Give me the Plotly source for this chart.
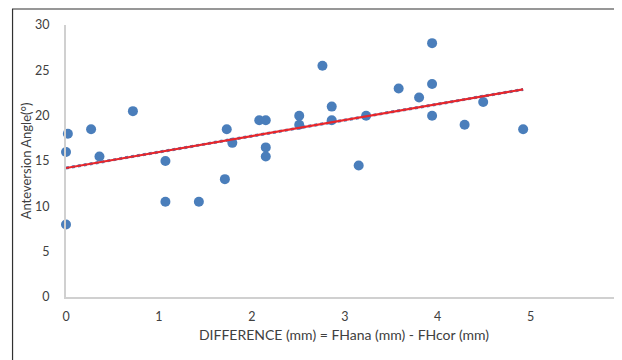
import numpy as np
import plotly.graph_objects as go

difference = [0, 0, 0.02, 0.27, 0.36, 0.72, 1.07, 1.07, 1.43, 1.71, 1.73, 1.79,
              2.08, 2.15, 2.15, 2.15, 2.51, 2.51, 2.76, 2.86, 2.86, 3.15, 3.23,
              3.58, 3.80, 3.94, 3.94, 3.94, 4.29, 4.49, 4.92]
anteversion = [8, 16, 18, 18.5, 15.5, 20.5, 15, 10.5, 10.5, 13, 18.5, 17,
               19.5, 19.5, 16.5, 15.5, 20, 19, 25.5, 21, 19.5, 14.5, 20,
               23, 22, 28, 23.5, 20, 19, 21.5, 18.5]
y_ticks = [0, 5, 10, 15, 20, 25, 30]
x_ticks = [0, 1, 2, 3, 4, 5, 6]

slope, intercept = np.polyfit(difference, anteversion, 1)
x_fit = np.array([min(difference), max(difference)])
y_fit = slope * x_fit + intercept

fig = go.Figure()
fig.add_trace(go.Scatter(x=difference, y=anteversion, mode="markers",
                         marker=dict(color="#4A7EBB", size=10, line=dict(width=0)),
                         showlegend=False, cliponaxis=False))
fig.add_trace(go.Scatter(x=x_fit, y=y_fit, mode="lines",
                         line=dict(color="#4A7EBB", width=3, dash="dot"),
                         showlegend=False, hoverinfo="skip"))
fig.add_trace(go.Scatter(x=x_fit, y=y_fit, mode="lines",
                         line=dict(color="#E8262B", width=2.2),
                         showlegend=False))

font = dict(family="Lato, Open Sans, sans-serif", size=12.5, color="#404040")
fig.update_layout(
    width=614, height=352,
    margin=dict(l=57.5, r=0, t=17, b=63),
    plot_bgcolor="white", paper_bgcolor="white",
    font=font,
    xaxis=dict(range=[0, 556.5 / 93.0], tickvals=x_ticks, showgrid=False,
               zeroline=False, showline=True, linecolor="#D0D0D0", linewidth=2,
               ticks="", ticklabelstandoff=7, automargin=False,
               title=dict(text="DIFFERENCE (mm) = FHana (mm) - FHcor (mm)",
                          font=dict(size=14, color="#404040"), standoff=7)),
    yaxis=dict(range=[0, 30], tickvals=y_ticks, showgrid=False,
               zeroline=False, showline=True, linecolor="#D0D0D0", linewidth=2,
               ticks="", ticklabelstandoff=12, automargin=False,
               title=dict(text="Anteversion Angle(°)",
                          font=dict(size=13, color="#404040"), standoff=0)),
    shapes=[dict(type="rect", xref="paper", yref="paper",
                 x0=(12 - 65.5) / 556.5, x1=1.05,
                 y0=-0.3, y1=(297 - 9) / 272.0,
                 line=dict(color="#303030", width=1.2), layer="below")],
)

fig.write_html("out.html")
